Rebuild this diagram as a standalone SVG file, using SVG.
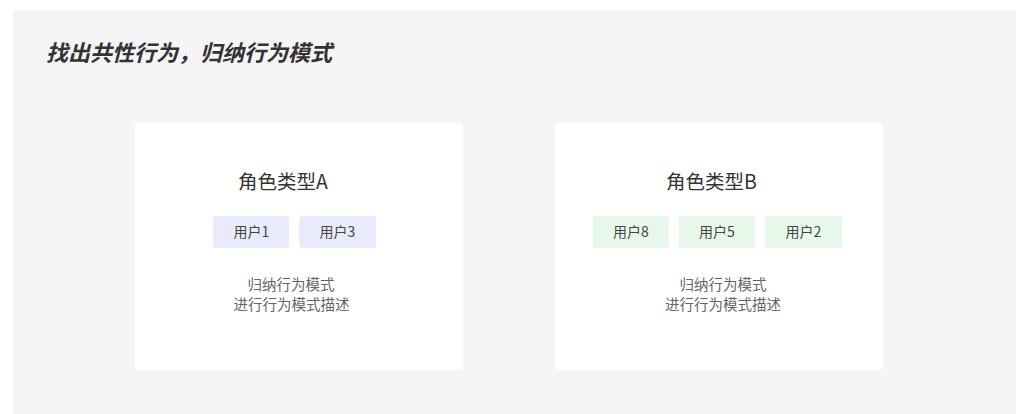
<svg xmlns="http://www.w3.org/2000/svg" width="1027" height="414" viewBox="0 0 1027 414">
<style>
text{font-family:"Noto Sans CJK SC","Noto Sans",sans-serif}
.card{fill:#ffffff}
.h{font-size:19.5px;fill:#333333;text-anchor:middle}
.chipA{fill:#e9ebfb}
.chipB{fill:#e7f8ea}
.ct{font-size:14px;fill:#444444;text-anchor:middle}
.d{font-size:14.5px;fill:#666666;text-anchor:middle}
</style>
<rect width="1027" height="414" fill="#ffffff"/>
<rect x="13" y="10" width="1003" height="404" fill="#f5f5f7"/>
<text x="46" y="61" font-size="22" font-weight="bold" fill="#333333" font-style="italic">找出共性行为，归纳行为模式</text>
<g id="cardA">
<rect class="card" x="135" y="123" width="328" height="247" rx="3"/>
<text class="h" x="283" y="189">角色类型A</text>
<rect class="chipA" x="213" y="216" width="76" height="32" rx="2"/>
<text class="ct" x="251.5" y="237">用户1</text>
<rect class="chipA" x="299" y="216" width="77" height="32" rx="2"/>
<text class="ct" x="337.5" y="237">用户3</text>
<text class="d" x="291" y="290">归纳行为模式</text>
<text class="d" x="291.5" y="310">进行行为模式描述</text>
</g>
<g id="cardB">
<rect class="card" x="555" y="123" width="328" height="247" rx="3"/>
<text class="h" x="711.5" y="189">角色类型B</text>
<rect class="chipB" x="593" y="216" width="76" height="32" rx="2"/>
<text class="ct" x="631" y="237">用户8</text>
<rect class="chipB" x="679" y="216" width="76" height="32" rx="2"/>
<text class="ct" x="717" y="237">用户5</text>
<rect class="chipB" x="765" y="216" width="77" height="32" rx="2"/>
<text class="ct" x="803.5" y="237">用户2</text>
<text class="d" x="723" y="290">归纳行为模式</text>
<text class="d" x="723" y="310">进行行为模式描述</text>
</g>
<g id="connectors"/>
</svg>
